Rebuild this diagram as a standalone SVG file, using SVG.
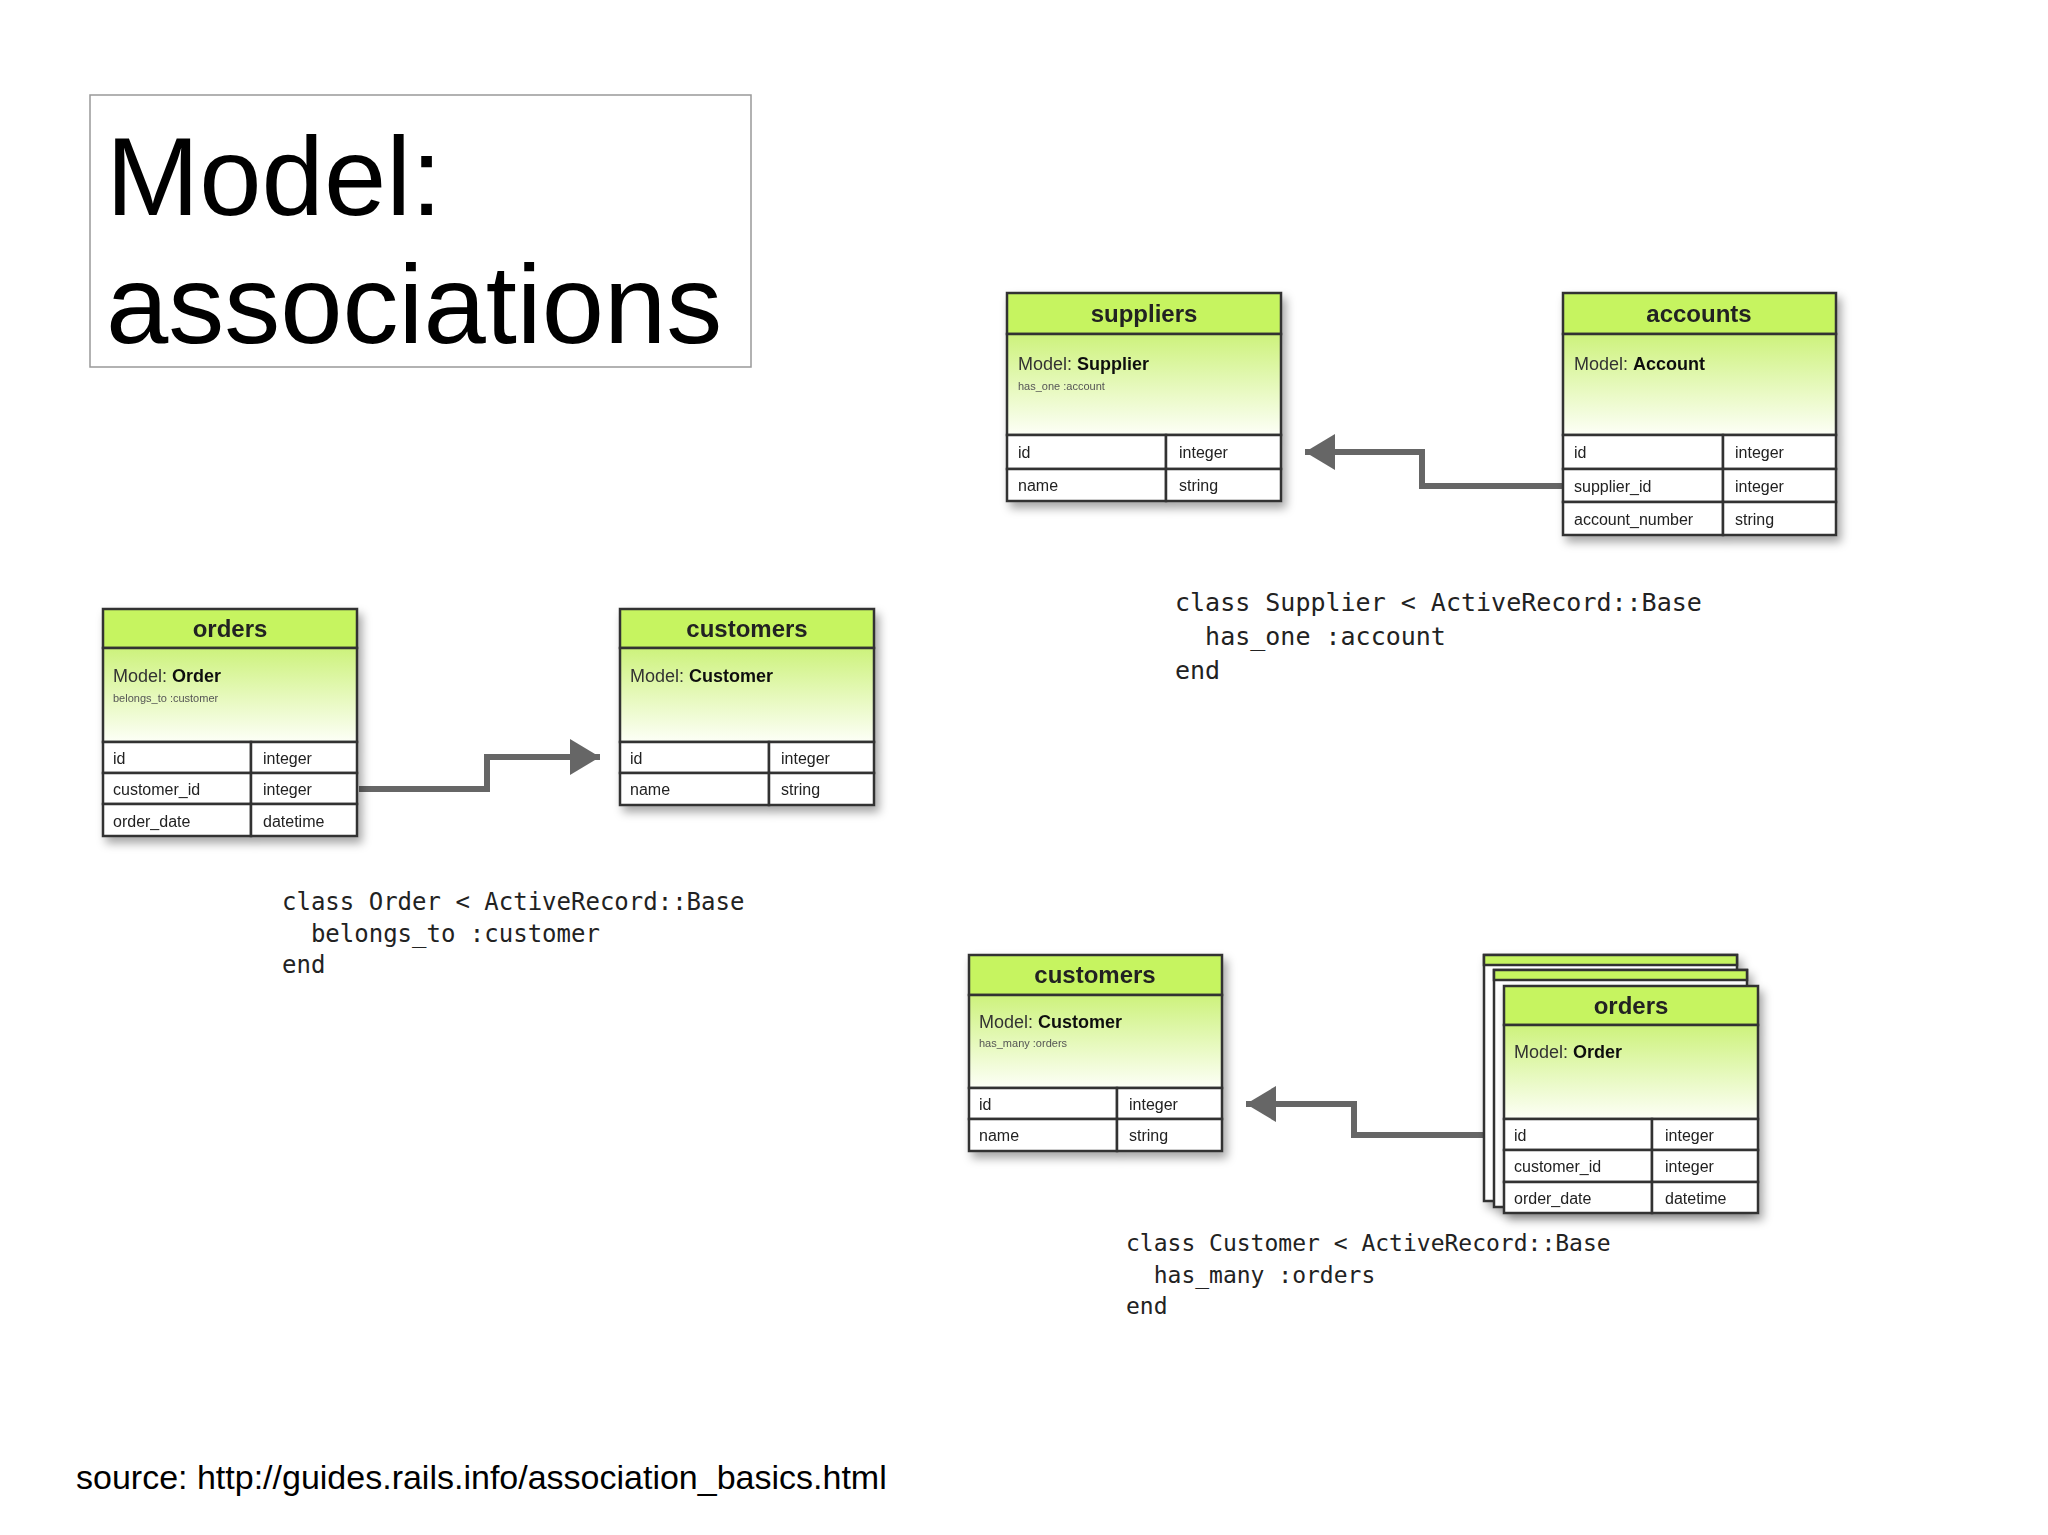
<svg xmlns="http://www.w3.org/2000/svg" width="2048" height="1535" viewBox="0 0 2048 1535">
<style>
.hd{fill:#c6f461;stroke:#333;stroke-width:2.5}
.md{fill:url(#g);stroke:#333;stroke-width:2.5}
.rw{fill:#fff;stroke:#333;stroke-width:2.5}
.ht{font:bold 24px "Liberation Sans",Arial,sans-serif;fill:#222;text-anchor:middle}
.mt{font:18px "Liberation Sans",Arial,sans-serif;fill:#333}
.mt tspan{font-weight:bold;fill:#111}
.st{font:11px "Liberation Sans",Arial,sans-serif;fill:#555}
.ct{font:16px "Liberation Sans",Arial,sans-serif;fill:#222}
.code{font-family:"DejaVu Sans Mono",monospace;fill:#222}
.cn{fill:none;stroke:#666;stroke-width:6}
</style>
<defs>
<linearGradient id="g" x1="0" y1="0" x2="0" y2="1"><stop offset="0" stop-color="#cdf27c"/><stop offset="1" stop-color="#fdfff7"/></linearGradient>
<filter id="sh" x="-10%" y="-10%" width="125%" height="130%"><feDropShadow dx="4" dy="6" stdDeviation="5" flood-color="#000" flood-opacity="0.35"/></filter>
<marker id="ar" markerWidth="6" markerHeight="6" refX="5" refY="3" orient="auto" markerUnits="strokeWidth"><path d="M0,0 L5,3 L0,6 z" fill="#666"/></marker>
</defs>
<rect width="2048" height="1535" fill="#fff"/>
<g id="title">
<rect x="90" y="95" width="661" height="272" fill="#fff" stroke="#999" stroke-width="1.5"/>
<text x="106" y="215" font-family="Liberation Sans,Arial,sans-serif" font-size="112" fill="#000">Model:</text>
<text x="106" y="343" font-family="Liberation Sans,Arial,sans-serif" font-size="112" fill="#000">associations</text>
</g>
<g id="connectors">
<path class="cn" d="M359,789 H487 V757 H600" marker-end="url(#ar)"/>
<path class="cn" d="M1563,486 H1422 V452 H1305" marker-end="url(#ar)"/>
<path class="cn" d="M1484,1135 H1354 V1104 H1246" marker-end="url(#ar)"/>
</g>
<g id="orders1" filter="url(#sh)">
<rect class="hd" x="103" y="609" width="254" height="39"/>
<rect class="md" x="103" y="648" width="254" height="94"/>
<rect class="rw" x="103" y="742" width="148" height="31"/><rect class="rw" x="251" y="742" width="106" height="31"/>
<rect class="rw" x="103" y="773" width="148" height="31"/><rect class="rw" x="251" y="773" width="106" height="31"/>
<rect class="rw" x="103" y="804" width="148" height="32"/><rect class="rw" x="251" y="804" width="106" height="32"/>
<text class="ht" x="230" y="637">orders</text>
<text class="mt" x="113" y="682">Model: <tspan>Order</tspan></text>
<text class="st" x="113" y="702">belongs_to :customer</text>
<text class="ct" x="113" y="764">id</text><text class="ct" x="263" y="764">integer</text>
<text class="ct" x="113" y="795">customer_id</text><text class="ct" x="263" y="795">integer</text>
<text class="ct" x="113" y="827">order_date</text><text class="ct" x="263" y="827">datetime</text>
</g>
<g id="customers1" filter="url(#sh)">
<rect class="hd" x="620" y="609" width="254" height="39"/>
<rect class="md" x="620" y="648" width="254" height="94"/>
<rect class="rw" x="620" y="742" width="149" height="31"/><rect class="rw" x="769" y="742" width="105" height="31"/>
<rect class="rw" x="620" y="773" width="149" height="32"/><rect class="rw" x="769" y="773" width="105" height="32"/>
<text class="ht" x="747" y="637">customers</text>
<text class="mt" x="630" y="682">Model: <tspan>Customer</tspan></text>
<text class="ct" x="630" y="764">id</text><text class="ct" x="781" y="764">integer</text>
<text class="ct" x="630" y="795">name</text><text class="ct" x="781" y="795">string</text>
</g>
<g id="code1" class="code" font-size="24">
<text x="282" y="910" xml:space="preserve">class Order &lt; ActiveRecord::Base</text>
<text x="282" y="942" xml:space="preserve">  belongs_to :customer</text>
<text x="282" y="973">end</text>
</g>
<g id="suppliers" filter="url(#sh)">
<rect class="hd" x="1007" y="293" width="274" height="41"/>
<rect class="md" x="1007" y="334" width="274" height="101"/>
<rect class="rw" x="1007" y="435" width="159" height="34"/><rect class="rw" x="1166" y="435" width="115" height="34"/>
<rect class="rw" x="1007" y="469" width="159" height="32"/><rect class="rw" x="1166" y="469" width="115" height="32"/>
<text class="ht" x="1144" y="322">suppliers</text>
<text class="mt" x="1018" y="370">Model: <tspan>Supplier</tspan></text>
<text class="st" x="1018" y="390">has_one :account</text>
<text class="ct" x="1018" y="458">id</text><text class="ct" x="1179" y="458">integer</text>
<text class="ct" x="1018" y="491">name</text><text class="ct" x="1179" y="491">string</text>
</g>
<g id="accounts" filter="url(#sh)">
<rect class="hd" x="1563" y="293" width="273" height="41"/>
<rect class="md" x="1563" y="334" width="273" height="101"/>
<rect class="rw" x="1563" y="435" width="160" height="34"/><rect class="rw" x="1723" y="435" width="113" height="34"/>
<rect class="rw" x="1563" y="469" width="160" height="33"/><rect class="rw" x="1723" y="469" width="113" height="33"/>
<rect class="rw" x="1563" y="502" width="160" height="33"/><rect class="rw" x="1723" y="502" width="113" height="33"/>
<text class="ht" x="1699" y="322">accounts</text>
<text class="mt" x="1574" y="370">Model: <tspan>Account</tspan></text>
<text class="ct" x="1574" y="458">id</text><text class="ct" x="1735" y="458">integer</text>
<text class="ct" x="1574" y="492">supplier_id</text><text class="ct" x="1735" y="492">integer</text>
<text class="ct" x="1574" y="525">account_number</text><text class="ct" x="1735" y="525">string</text>
</g>
<g id="code2" class="code" font-size="25">
<text x="1175" y="611" xml:space="preserve">class Supplier &lt; ActiveRecord::Base</text>
<text x="1175" y="645" xml:space="preserve">  has_one :account</text>
<text x="1175" y="679">end</text>
</g>
<g id="customers2" filter="url(#sh)">
<rect class="hd" x="969" y="955" width="253" height="40"/>
<rect class="md" x="969" y="995" width="253" height="93"/>
<rect class="rw" x="969" y="1088" width="148" height="31"/><rect class="rw" x="1117" y="1088" width="105" height="31"/>
<rect class="rw" x="969" y="1119" width="148" height="32"/><rect class="rw" x="1117" y="1119" width="105" height="32"/>
<text class="ht" x="1095" y="983">customers</text>
<text class="mt" x="979" y="1028">Model: <tspan>Customer</tspan></text>
<text class="st" x="979" y="1047">has_many :orders</text>
<text class="ct" x="979" y="1110">id</text><text class="ct" x="1129" y="1110">integer</text>
<text class="ct" x="979" y="1141">name</text><text class="ct" x="1129" y="1141">string</text>
</g>
<g id="orders2">
<g filter="url(#sh)">
<rect x="1484" y="955" width="253" height="246" fill="#fff" stroke="#333" stroke-width="2.5"/>
<rect class="hd" x="1484" y="955" width="253" height="10"/>
<rect x="1494" y="970" width="253" height="237" fill="#fff" stroke="#333" stroke-width="2.5"/>
<rect class="hd" x="1494" y="970" width="253" height="10"/>
</g>
<g filter="url(#sh)">
<rect class="hd" x="1504" y="986" width="254" height="39"/>
<rect class="md" x="1504" y="1025" width="254" height="94"/>
<rect class="rw" x="1504" y="1119" width="148" height="31"/><rect class="rw" x="1652" y="1119" width="106" height="31"/>
<rect class="rw" x="1504" y="1150" width="148" height="32"/><rect class="rw" x="1652" y="1150" width="106" height="32"/>
<rect class="rw" x="1504" y="1182" width="148" height="31"/><rect class="rw" x="1652" y="1182" width="106" height="31"/>
<text class="ht" x="1631" y="1014">orders</text>
<text class="mt" x="1514" y="1058">Model: <tspan>Order</tspan></text>
<text class="ct" x="1514" y="1141">id</text><text class="ct" x="1665" y="1141">integer</text>
<text class="ct" x="1514" y="1172">customer_id</text><text class="ct" x="1665" y="1172">integer</text>
<text class="ct" x="1514" y="1204">order_date</text><text class="ct" x="1665" y="1204">datetime</text>
</g>
</g>
<g id="code3" class="code" font-size="23">
<text x="1126" y="1251" xml:space="preserve">class Customer &lt; ActiveRecord::Base</text>
<text x="1126" y="1283" xml:space="preserve">  has_many :orders</text>
<text x="1126" y="1314">end</text>
</g>
<text x="76" y="1489" font-family="Liberation Sans,Arial,sans-serif" font-size="34" fill="#000">source: http://guides.rails.info/association_basics.html</text>
</svg>
